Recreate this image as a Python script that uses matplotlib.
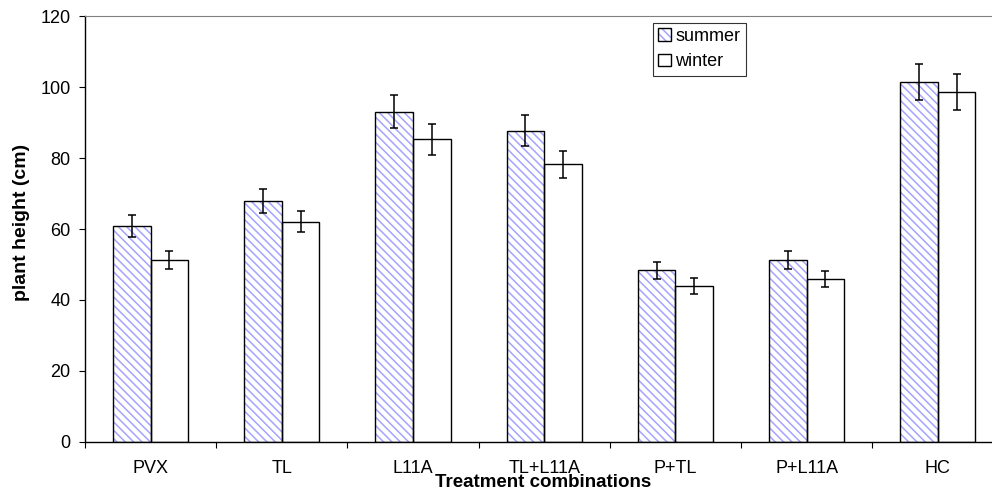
import matplotlib
matplotlib.use("Agg")
import matplotlib.pyplot as plt
import numpy as np
from matplotlib.ticker import FixedLocator, NullFormatter

plt.rcParams['font.family'] = ['Liberation Sans', 'DejaVu Sans']
plt.rcParams['hatch.linewidth'] = 1.1

categories = ["PVX", "TL", "L11A", "TL+L11A", "P+TL", "P+L11A", "HC"]
summer = [60.8, 67.8, 93.1, 87.7, 48.3, 51.3, 101.4]
winter = [51.2, 62.1, 85.3, 78.2, 44.0, 45.9, 98.6]
summer_err = [3.1, 3.4, 4.7, 4.4, 2.4, 2.6, 5.1]
winter_err = [2.6, 3.0, 4.3, 3.9, 2.2, 2.3, 5.0]
yticks = [0, 20, 40, 60, 80, 100, 120]

HATCH_COLOR = '#a4a4ff'

fig = plt.figure(figsize=(9.92, 4.92), dpi=100)
ax = fig.add_axes([85/992, 50.3/492, 918.4/992, 425.4/492])

x = np.arange(len(categories))
w = 0.286
hb = ax.bar(x - w/2, summer, w, color='white', edgecolor=HATCH_COLOR, linewidth=0,
            hatch='\\\\\\\\', zorder=2)
sb = ax.bar(x - w/2, summer, w, fill=False, edgecolor='black', linewidth=1.0, zorder=2.1)
wb = ax.bar(x + w/2, winter, w, color='white', edgecolor='black', linewidth=1.0, zorder=2)
ax.errorbar(x - w/2, summer, yerr=summer_err, fmt='none', ecolor='black',
            elinewidth=1.1, capsize=3.2, capthick=1.1, zorder=3)
ax.errorbar(x + w/2, winter, yerr=winter_err, fmt='none', ecolor='black',
            elinewidth=1.1, capsize=3.2, capthick=1.1, zorder=3)

ax.set_xlim(-0.5, len(categories) - 0.5)
ax.set_ylim(0, 120)
ax.set_yticks(yticks)
ax.set_xticks(x)
ax.set_xticklabels(categories, fontsize=13)
ax.xaxis.set_minor_locator(FixedLocator(np.arange(-0.5, len(categories), 1.0)))
ax.xaxis.set_minor_formatter(NullFormatter())
ax.tick_params(axis='x', which='major', length=0, pad=13.5)
ax.tick_params(axis='x', which='minor', length=4, width=0.8, direction='out')
ax.tick_params(axis='y', length=4, width=0.8, direction='out', labelsize=13, pad=6.5)

for s in ['top', 'right']:
    ax.spines[s].set_color('#808080')
    ax.spines[s].set_linewidth(0.8)
ax.spines['left'].set_linewidth(1.0)
ax.spines['bottom'].set_linewidth(1.0)

fig.text(543/992, 5.3/492, 'Treatment combinations', fontsize=13.5, fontweight='bold',
         ha='center', va='baseline')
fig.text(21.7/992, 1 - 222.5/492, 'plant height (cm)', fontsize=14, fontweight='bold',
         ha='center', va='center', rotation=90)

leg = ax.legend([(hb[0], sb[0]), wb[0]], ['summer', 'winter'],
                loc='upper left', bbox_to_anchor=(567.7/918.4, 1 - 6.4/425.4),
                fontsize=13, frameon=True, fancybox=False, edgecolor='black',
                handlelength=0.7, handleheight=0.7, handletextpad=0.25,
                borderpad=0.3, labelspacing=0.45, borderaxespad=0)
leg.get_frame().set_linewidth(0.8)

fig.savefig('out.png', dpi=100)
